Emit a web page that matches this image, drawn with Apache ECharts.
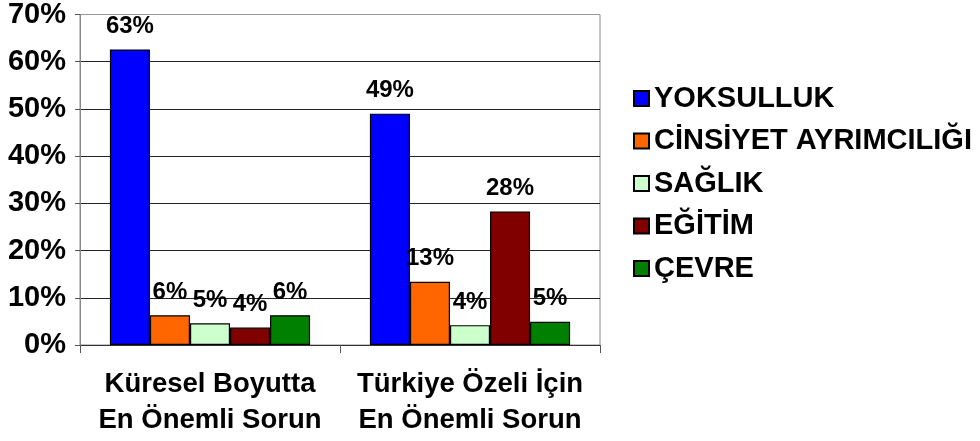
<!DOCTYPE html>
<html>
<head>
<meta charset="utf-8">
<script src="https://cdn.jsdelivr.net/npm/echarts@6/dist/echarts.min.js"></script>
<style>html,body{margin:0;padding:0;background:#fff}#c{width:980px;height:441px}</style>
</head>
<body>
<div id="c"></div>
<script>
var categories = ['Küresel Boyutta\nEn Önemli Sorun', 'Türkiye Özeli İçin\nEn Önemli Sorun'];
var seriesNames = ['YOKSULLUK', 'CİNSİYET AYRIMCILIĞI', 'SAĞLIK', 'EĞİTİM', 'ÇEVRE'];
var yoksulluk = [62.6, 49.0];
var cinsiyet = [6.3, 13.4];
var saglik = [4.6, 4.2];
var egitim = [3.7, 28.3];
var cevre = [6.3, 4.9];
var yTicks = [0, 10, 20, 30, 40, 50, 60, 70];

var values = [yoksulluk, cinsiyet, saglik, egitim, cevre];
var colors = ['#0000FF', '#FF6600', '#CCFFCC', '#800000', '#008000'];
var FONT = '"Liberation Sans", Arial, sans-serif';

var chart = echarts.init(document.getElementById('c'), null, {renderer: 'canvas'});
var series = seriesNames.map(function (name, i) {
  return {
    name: name,
    type: 'bar',
    data: values[i],
    barGap: '0%',
    barCategoryGap: '23%',
    itemStyle: {color: colors[i], borderColor: '#000', borderWidth: 1.2},
    label: {
      show: true,
      position: 'top',
      distance: 11,
      fontFamily: FONT,
      fontWeight: 'bold',
      fontSize: 24,
      color: '#000',
      formatter: function (p) { return Math.round(p.value) + '%'; }
    }
  };
});

chart.setOption({
  animation: false,
  backgroundColor: '#fff',
  grid: {left: 80, right: 380, top: 14, bottom: 96, show: true, borderColor: '#888', borderWidth: 1},
  legend: {
    orient: 'vertical',
    left: 628,
    top: 79,
    itemWidth: 15,
    itemHeight: 15,
    itemGap: 13.5,
    icon: 'rect',
    data: seriesNames,
    textStyle: {fontFamily: FONT, fontWeight: 'bold', fontSize: 29, color: '#000', lineHeight: 28}
  },
  xAxis: {
    type: 'category',
    data: categories,
    axisLine: {show: true, lineStyle: {color: '#333', width: 1}},
    axisTick: {show: true, length: 8, lineStyle: {color: '#555'}},
    axisLabel: {
      interval: 0,
      margin: 21,
      fontFamily: FONT,
      fontWeight: 'bold',
      fontSize: 27.5,
      lineHeight: 36,
      color: '#000'
    }
  },
  yAxis: {
    type: 'value',
    min: yTicks[0],
    max: yTicks[yTicks.length - 1],
    interval: 10,
    axisLine: {show: true, lineStyle: {color: '#888'}},
    axisTick: {show: true, length: 5, lineStyle: {color: '#555'}},
    axisLabel: {
      margin: 14,
      fontFamily: FONT,
      fontWeight: 'bold',
      fontSize: 29,
      color: '#000',
      formatter: '{value}%'
    },
    splitLine: {show: true, lineStyle: {color: ['#333', '#222', '#222', '#222', '#222', '#222', '#222', '#999'], width: 1}}
  },
  series: series
});
</script>
</body>
</html>
